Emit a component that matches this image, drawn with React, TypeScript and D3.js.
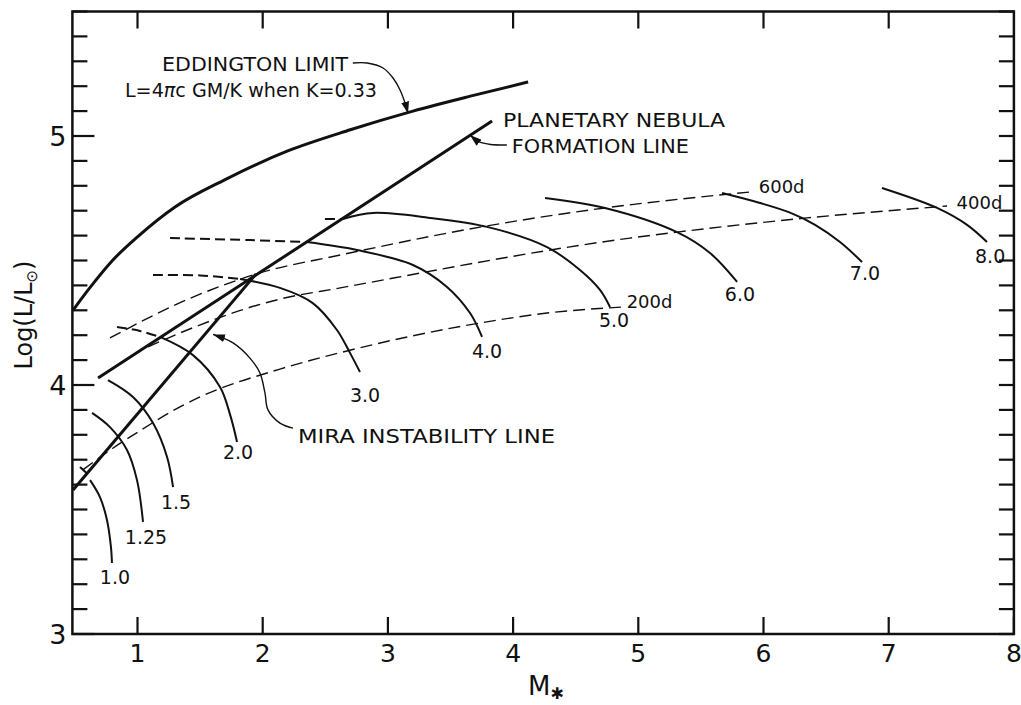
import React from "react";
import * as d3 from "d3";

type Pt = [number, number];

// boundary lines (M*, log L)
const eddington: Pt[] = [[0.485, 4.3], [0.55, 4.345], [0.65, 4.41], [0.8, 4.5], [1.0, 4.595], [1.3, 4.715], [1.7, 4.825], [2.2, 4.94], [2.7, 5.025], [3.2, 5.1], [3.7, 5.165], [4.12, 5.217]];
const pnFormation: Pt[] = [[0.685, 4.028], [3.832, 5.06]];
const miraInstability: Pt[] = [[0.485, 3.578], [1.947, 4.446]];

// evolutionary tracks: dashed early part, then solid
const track10Dash: Pt[] = [[0.541, 3.671], [0.612, 3.637]];
const track10: Pt[] = [[0.621, 3.618], [0.7, 3.55], [0.756, 3.458], [0.788, 3.349], [0.796, 3.285]];
const track125: Pt[] = [[0.637, 3.888], [0.78, 3.831], [0.916, 3.739], [0.996, 3.618], [1.044, 3.45]];
const track15: Pt[] = [[0.764, 4.02], [0.964, 3.952], [1.124, 3.847], [1.236, 3.711], [1.284, 3.59]];
const track20Dash: Pt[] = [[0.836, 4.233], [1.02, 4.217], [1.18, 4.193]];
const track20: Pt[] = [[1.18, 4.193], [1.443, 4.12], [1.659, 3.992], [1.74, 3.88], [1.795, 3.771]];
const track30Dash: Pt[] = [[1.124, 4.442], [1.5, 4.44], [1.819, 4.426]];
const track30: Pt[] = [[1.819, 4.426], [2.138, 4.39], [2.4, 4.329], [2.593, 4.221], [2.697, 4.129], [2.777, 4.052]];
const track40Dash: Pt[] = [[1.26, 4.59], [1.9, 4.582], [2.354, 4.574]];
const track40: Pt[] = [[2.354, 4.574], [2.753, 4.542], [3.2, 4.482], [3.472, 4.394], [3.656, 4.289], [3.752, 4.193]];
const track50Dash: Pt[] = [[2.497, 4.667], [2.641, 4.667]];
const track50: Pt[] = [[2.641, 4.667], [2.881, 4.691], [3.336, 4.671], [3.792, 4.635], [4.271, 4.554], [4.534, 4.462], [4.694, 4.382], [4.774, 4.313]];
const track60: Pt[] = [[4.255, 4.751], [4.734, 4.711], [5.309, 4.614], [5.573, 4.53], [5.789, 4.414]];
const track70: Pt[] = [[5.669, 4.771], [5.972, 4.731], [6.212, 4.692], [6.412, 4.643], [6.611, 4.574], [6.787, 4.494]];
const track80: Pt[] = [[6.946, 4.791], [7.386, 4.711], [7.626, 4.643], [7.785, 4.574]];

const solidTracks = [track10, track125, track15, track20, track30, track40, track50, track60, track70, track80];
const dashedTracks = [track10Dash, track20Dash, track30Dash, track40Dash, track50Dash];
const trackLabels = ["1.0", "1.25", "1.5", "2.0", "3.0", "4.0", "5.0", "6.0", "7.0", "8.0"];
const trackLabelAt: Pt[] = [[0.82, 3.229], [1.068, 3.39], [1.308, 3.53], [1.803, 3.731], [2.817, 3.96], [3.792, 4.137], [4.806, 4.261], [5.812, 4.365], [6.81, 4.45], [7.81, 4.518]];

// lines of constant pulsation period
const period200: Pt[] = [[0.565, 3.66], [0.8, 3.745], [1.0, 3.81], [1.339, 3.912], [1.5, 3.952], [2.138, 4.064], [2.62, 4.13], [3.736, 4.249], [4.271, 4.289], [4.87, 4.313]];
const period400: Pt[] = [[1.084, 4.153], [1.339, 4.209], [2.138, 4.345], [2.62, 4.39], [4.934, 4.59], [5.309, 4.614], [6.347, 4.671], [7.37, 4.715], [7.466, 4.719]];
const period600: Pt[] = [[0.78, 4.189], [1.443, 4.353], [1.978, 4.45], [2.62, 4.522], [3.792, 4.639], [4.734, 4.711], [5.493, 4.755], [5.89, 4.775]];
const periodLines = [period200, period400, period600];
const periodLabels = ["200d", "400d", "600d"];
const periodLabelAt: Pt[] = [[5.09, 4.337], [7.725, 4.731], [6.145, 4.799]];

// annotation arrows
const eddArrow: Pt[] = [[2.72, 5.293], [2.835, 5.293], [2.961, 5.273], [3.041, 5.233], [3.097, 5.185], [3.137, 5.133], [3.161, 5.09]];
const pnArrow: Pt[] = [[3.95, 4.964], [3.82, 4.966], [3.74, 4.974], [3.69, 4.99], [3.655, 5.004]];
const miraArrow: Pt[] = [[2.242, 3.827], [2.138, 3.847], [2.042, 3.9], [2.018, 3.968], [1.978, 4.048], [1.898, 4.108], [1.763, 4.169], [1.603, 4.203]];

const xTicks = [1, 2, 3, 4, 5, 6, 7, 8];
const yMajor = [3, 4, 5];
const yMinor = d3.range(30, 56).map((v) => v / 10);

export default function App() {
  const left = 72.4, right = 1013.9, top = 11.5, bottom = 634;
  const x = d3.scaleLinear().domain([0.48, 8]).range([left, right]);
  const y = d3.scaleLinear().domain([3, 5.5]).range([bottom, top]);
  const curve = d3.line<Pt>().x((d) => x(d[0])).y((d) => y(d[1])).curve(d3.curveCatmullRom.alpha(0.5));
  const smooth = d3.line<Pt>().x((d) => x(d[0])).y((d) => y(d[1])).curve(d3.curveMonotoneX);
  const font = "'DejaVu Sans', sans-serif";
  const ink = "#111";

  return (
    <svg width={1021} height={705} style={{ position: "absolute", left: 0, top: 0, background: "#fff" }}>
      <defs>
        <marker id="ah" viewBox="0 0 12 8" refX="12" refY="4" markerWidth="12" markerHeight="8" markerUnits="userSpaceOnUse" orient="auto">
          <path d="M0,0 L12,4 L0,8 z" fill={ink} />
        </marker>
      </defs>

      {/* frame */}
      <rect x={left} y={top} width={right - left} height={bottom - top} fill="none" stroke={ink} strokeWidth={2.5} />

      {/* left and right ticks */}
      {yMinor.map((v) => {
        const major = yMajor.includes(Math.round(v * 10) / 10);
        return (
          <g key={v}>
            <line x1={left} x2={left + (major ? 22 : 15)} y1={y(v)} y2={y(v)} stroke={ink} strokeWidth={2.2} />
            <line x1={right} x2={right - 15} y1={y(v)} y2={y(v)} stroke={ink} strokeWidth={2.2} />
          </g>
        );
      })}
      {yMajor.map((v) => (
        <text key={v} x={left - 6} y={y(v)} textAnchor="end" dominantBaseline="central" fontFamily={font} fontSize={27} fill={ink}>
          {v}
        </text>
      ))}

      {/* top and bottom ticks */}
      {xTicks.map((v) => (
        <g key={v}>
          <line x1={x(v)} x2={x(v)} y1={bottom} y2={bottom - 17} stroke={ink} strokeWidth={2.2} />
          {v < 8 && <line x1={x(v)} x2={x(v)} y1={top} y2={top + 17} stroke={ink} strokeWidth={2.2} />}
          <text x={x(v)} y={bottom + 19} textAnchor="middle" dominantBaseline="central" fontFamily={font} fontSize={25} fill={ink}>
            {v}
          </text>
        </g>
      ))}

      {/* axis titles */}
      <text transform="translate(32,315) rotate(-90)" textAnchor="middle" fontFamily={font} fontSize={24} fill={ink}>
        Log(L/L<tspan fontSize={15} dy={5}>⊙</tspan><tspan dy={-5}>)</tspan>
      </text>
      <text x={528} y={695} fontFamily={font} fontSize={26} fill={ink}>
        M<tspan fontSize={16} dy={4}>✱</tspan>
      </text>

      {/* period lines */}
      {periodLines.map((p, i) => (
        <path key={i} d={smooth(p) || ""} fill="none" stroke={ink} strokeWidth={1.4} strokeDasharray="12 6" />
      ))}
      {periodLabels.map((t, i) => (
        <text key={t} x={x(periodLabelAt[i][0])} y={y(periodLabelAt[i][1])} textAnchor="middle" dominantBaseline="central" fontFamily={font} fontSize={18} fill={ink}>
          {t}
        </text>
      ))}

      {/* evolutionary tracks */}
      {dashedTracks.map((p, i) => (
        <path key={i} d={curve(p) || ""} fill="none" stroke={ink} strokeWidth={2} strokeDasharray="10 5" />
      ))}
      {solidTracks.map((p, i) => (
        <path key={i} d={curve(p) || ""} fill="none" stroke={ink} strokeWidth={2} />
      ))}
      {trackLabels.map((t, i) => (
        <text key={t} x={x(trackLabelAt[i][0])} y={y(trackLabelAt[i][1])} textAnchor="middle" dominantBaseline="central" fontFamily={font} fontSize={19} fill={ink}>
          {t}
        </text>
      ))}

      {/* boundary lines */}
      <path d={smooth(eddington) || ""} fill="none" stroke={ink} strokeWidth={3} />
      <path d={curve(pnFormation) || ""} fill="none" stroke={ink} strokeWidth={3} />
      <path d={curve(miraInstability) || ""} fill="none" stroke={ink} strokeWidth={3} />

      {/* annotations */}
      <path d={curve(eddArrow) || ""} fill="none" stroke={ink} strokeWidth={1.4} markerEnd="url(#ah)" />
      <path d={curve(pnArrow) || ""} fill="none" stroke={ink} strokeWidth={1.4} markerEnd="url(#ah)" />
      <path d={curve(miraArrow) || ""} fill="none" stroke={ink} strokeWidth={1.4} markerEnd="url(#ah)" />

      <g fontFamily={font} fill={ink} fontSize={20}>
        <text x={x(1.196)} y={y(5.261)} textLength={186} lengthAdjust="spacingAndGlyphs">EDDINGTON LIMIT</text>
        <text x={x(0.9)} y={y(5.157)} textLength={252} lengthAdjust="spacingAndGlyphs">
          L=4<tspan fontStyle="italic">π</tspan>c GM/K when K=0.33
        </text>
        <text x={x(3.92)} y={y(5.036)} textLength={222} lengthAdjust="spacingAndGlyphs">PLANETARY NEBULA</text>
        <text x={x(3.99)} y={y(4.932)} textLength={177} lengthAdjust="spacingAndGlyphs">FORMATION LINE</text>
        <text x={x(2.282)} y={y(3.767)} textLength={257} lengthAdjust="spacingAndGlyphs">MIRA INSTABILITY LINE</text>
      </g>
    </svg>
  );
}
